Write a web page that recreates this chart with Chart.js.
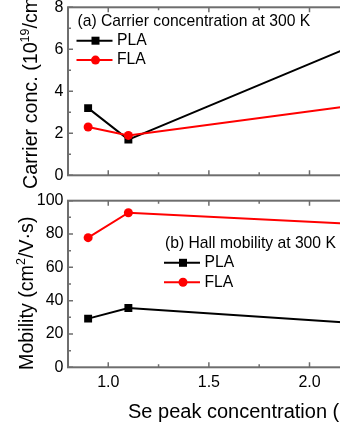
<!DOCTYPE html>
<html>
<head>
<meta charset="utf-8">
<script src="https://cdn.jsdelivr.net/npm/chart.js@4.4.1/dist/chart.umd.min.js"></script>
<style>
  html, body { margin: 0; padding: 0; overflow: hidden; background: #fff; width: 340px; height: 440px; }
  .panel { position: absolute; left: 0; }
</style>
</head>
<body>
<canvas id="concChart" class="panel" width="400" height="195" style="top:0"></canvas>
<canvas id="mobChart" class="panel" width="400" height="255" style="top:185px"></canvas>
<script>
// ---- data
const sePeak = [0.9, 1.1, 2.2];
const concPLA = [3.2, 1.7, 6.1];
const concFLA = [2.3, 1.9, 3.3];
const mobPLA = [29.2, 35.6, 26.8];
const mobFLA = [77.8, 92.8, 86.1];

// ---- tick labels
const xMajor = [1.0, 1.5, 2.0];
const xMinor = [1.25, 1.75, 2.25];
const concTicks = [0, 2, 4, 6, 8];
const concMinor = [1, 3, 5, 7];
const mobTicks = [0, 20, 40, 60, 80, 100];
const mobMinor = [10, 30, 50, 70, 90];

const FONT = "'Liberation Sans', Arial, sans-serif";
Chart.defaults.font.family = FONT;
Chart.defaults.font.size = 16;
Chart.defaults.color = '#000';

const AXIS = '#6e6e6e';

// frame round the plot with inward ticks on every side
const framePlugin = {
  id: 'frame',
  beforeDatasetsDraw(chart, args, opts) {
    const { ctx, chartArea: a, scales } = chart;
    const x = scales.x, y = scales.y;
    ctx.save();
    ctx.strokeStyle = AXIS;
    ctx.lineWidth = 2;
    ctx.strokeRect(a.left, a.top, a.right - a.left, a.bottom - a.top);
    ctx.lineWidth = 1.5;
    ctx.beginPath();
    const xt = (vals, len) => vals.forEach(v => {
      if (v < x.min || v > x.max) return;
      const px = x.getPixelForValue(v);
      ctx.moveTo(px, a.bottom); ctx.lineTo(px, a.bottom - len);
      ctx.moveTo(px, a.top); ctx.lineTo(px, a.top + len);
    });
    const yt = (vals, len) => vals.forEach(v => {
      const py = y.getPixelForValue(v);
      ctx.moveTo(a.left, py); ctx.lineTo(a.left + len, py);
      ctx.moveTo(a.right, py); ctx.lineTo(a.right - len, py);
    });
    xt(xMajor, 5); xt(xMinor, 3);
    yt(opts.yMajor, 5); yt(opts.yMinor, 3);
    ctx.stroke();
    ctx.restore();
  }
};

function marker(ctx, style, color, px, py) {
  ctx.fillStyle = color;
  if (style === 'rect') {
    ctx.fillRect(px - 4, py - 4, 8, 8);
  } else {
    ctx.beginPath(); ctx.arc(px, py, 4.5, 0, Math.PI * 2); ctx.fill();
  }
}

// in-plot caption + legend
const notePlugin = {
  id: 'note',
  afterDatasetsDraw(chart, args, opts) {
    const { ctx, chartArea: a } = chart;
    ctx.save();
    ctx.font = '15.7px ' + FONT;
    ctx.fillStyle = '#000';
    ctx.textBaseline = 'middle';
    ctx.fillText(opts.title, opts.x, a.top + opts.dy);
    chart.data.datasets.slice().reverse().forEach((ds, i) => {
      const ry = a.top + opts.dy + opts.gap * (i + 1);
      ctx.strokeStyle = ds.borderColor; ctx.lineWidth = 2;
      ctx.beginPath(); ctx.moveTo(opts.x - 1, ry); ctx.lineTo(opts.x + 35, ry); ctx.stroke();
      marker(ctx, ds.pointStyle, ds.borderColor, opts.x + 18, ry);
      ctx.fillStyle = '#000';
      ctx.fillText(ds.label, opts.x + 39.5, ry);
    });
    ctx.restore();
  }
};

// rotated y title with superscripts
const yTitlePlugin = {
  id: 'ytitle',
  afterDraw(chart, args, opts) {
    const ctx = chart.ctx;
    ctx.save();
    ctx.translate(opts.x, opts.y);
    ctx.rotate(-Math.PI / 2);
    ctx.fillStyle = '#000';
    ctx.textBaseline = 'alphabetic';
    let cx = 0;
    opts.parts.forEach(p => {
      ctx.font = (p.sup ? '12.5px ' : '19.7px ') + FONT;
      ctx.fillText(p.t, cx, p.sup ? -8 : 0);
      cx += ctx.measureText(p.t).width;
    });
    ctx.restore();
  }
};

const xTitlePlugin = {
  id: 'xtitle',
  afterDraw(chart, args, opts) {
    if (!opts.text) return;
    const ctx = chart.ctx;
    ctx.save();
    ctx.font = '20px ' + FONT;
    ctx.fillStyle = '#000';
    ctx.textBaseline = 'alphabetic';
    ctx.fillText(opts.text, opts.x, opts.y);
    ctx.restore();
  }
};

function lineSet(label, values, color, style, order) {
  return {
    label: label,
    data: sePeak.map((v, i) => ({ x: v, y: values[i] })),
    borderColor: color,
    backgroundColor: color,
    borderWidth: 2,
    pointStyle: style,
    pointRadius: style === 'rect' ? 5.6 : 4.5,
    pointBorderWidth: 0,
    tension: 0,
    order: order
  };
}

function panelOptions(yMax, yTicks, yMinor, showX, padTop, xHeight, note, ytitle, xtitle) {
  return {
    responsive: false,
    animation: false,
    devicePixelRatio: 1,
    layout: { padding: { top: padTop, right: 10, left: 0, bottom: 0 } },
    scales: {
      x: {
        type: 'linear', min: 0.8, max: 2.4,
        grid: { display: false, drawTicks: false }, border: { display: false },
        afterBuildTicks: s => { s.ticks = xMajor.map(v => ({ value: v })); },
        afterFit: s => { s.height = xHeight; s.paddingLeft = 0; s.paddingRight = 0; },
        ticks: { display: showX, padding: 6, callback: v => v.toFixed(1) }
      },
      y: {
        min: 0, max: yMax,
        grid: { display: false, drawTicks: false }, border: { display: false },
        afterBuildTicks: s => { s.ticks = yTicks.map(v => ({ value: v })); },
        afterFit: s => { s.width = 68; s.paddingTop = 0; s.paddingBottom = 0; },
        ticks: { padding: 4.5 }
      }
    },
    plugins: {
      legend: { display: false },
      tooltip: { enabled: false },
      frame: { yMajor: yTicks, yMinor: yMinor },
      note: note,
      ytitle: ytitle,
      xtitle: xtitle
    }
  };
}

const plugins = [framePlugin, notePlugin, yTitlePlugin, xTitlePlugin];

// (a) carrier concentration
new Chart(document.getElementById('concChart'), {
  type: 'line',
  data: { datasets: [
    lineSet('FLA', concFLA, '#ff0000', 'circle', 1),
    lineSet('PLA', concPLA, '#000000', 'rect', 2)
  ] },
  options: panelOptions(8, concTicks, concMinor, false, 7.3, 19.7,
    { title: '(a) Carrier concentration at 300 K', x: 77.5, dy: 14, gap: 19.4 },
    { x: 37.3, y: 189, parts: [{ t: 'Carrier conc. (10' }, { t: '19', sup: true }, { t: '/cm' }, { t: '3', sup: true }, { t: ')' }] },
    {}),
  plugins: plugins
});

// (b) Hall mobility
new Chart(document.getElementById('mobChart'), {
  type: 'line',
  data: { datasets: [
    lineSet('FLA', mobFLA, '#ff0000', 'circle', 1),
    lineSet('PLA', mobPLA, '#000000', 'rect', 2)
  ] },
  options: panelOptions(100, mobTicks, mobMinor, true, 15.7, 72.7,
    { title: '(b) Hall mobility at 300 K', x: 165, dy: 42.6, gap: 19.5 },
    { x: 33.3, y: 185, parts: [{ t: 'Mobility (cm' }, { t: '2', sup: true }, { t: '/V\u00b7s)' }] },
    { text: 'Se peak concentration (%)', x: 128, y: 232.7 }),
  plugins: plugins
});
</script>
</body>
</html>
